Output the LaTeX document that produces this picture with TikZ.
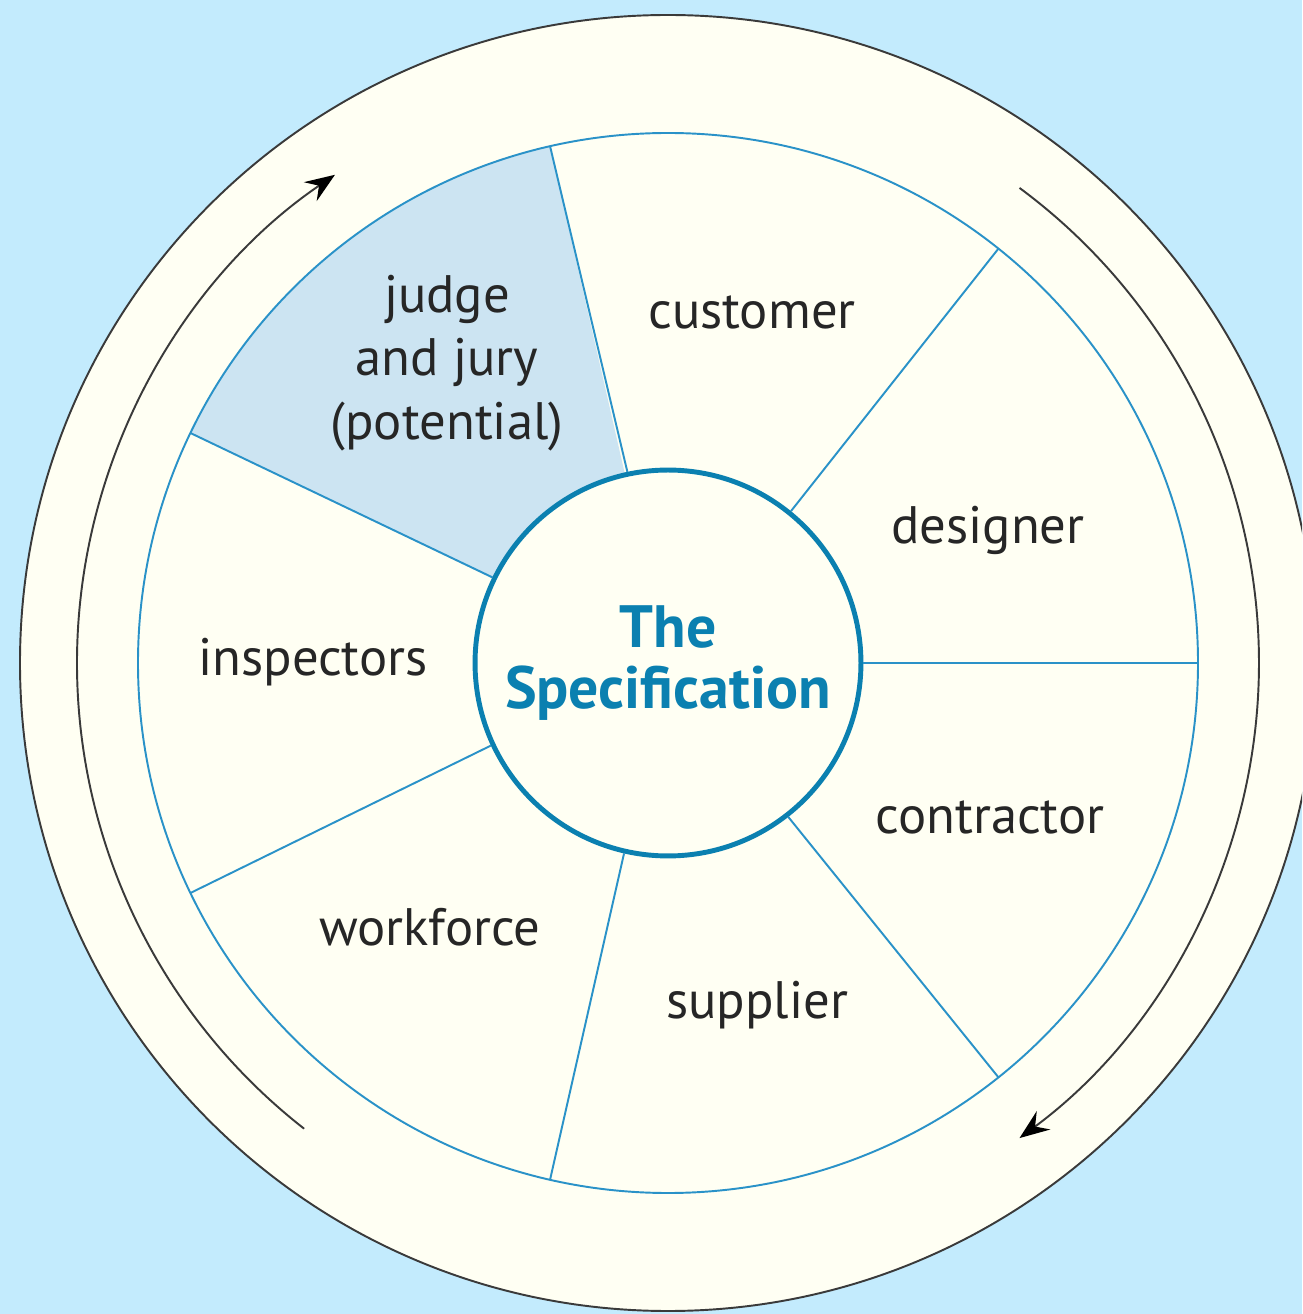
\documentclass[tikz,border=0pt]{standalone}
\usepackage{fontspec}
\setmainfont{PT Sans}
\usetikzlibrary{arrows.meta}
\definecolor{bgblue}{HTML}{C3EBFD}
\definecolor{cream}{HTML}{FFFFF3}
\definecolor{spokeblue}{HTML}{2A92C8}
\definecolor{specblue}{HTML}{0B80B0}
\definecolor{judgefill}{HTML}{CCE4F2}
\definecolor{ringline}{HTML}{3A3A3A}
\tikzset{
  ringstroke/.style={draw=ringline, line width=1.1pt},
  spoke/.style={draw=spokeblue, line width=1.1pt},
  flowarrow/.style={draw=ringline, line width=1.1pt, -{Stealth[length=17pt,width=13pt,inset=6pt,black]}},
  lbl/.style={font=\fontsize{30}{36}\selectfont, text=black!85, align=center, inner sep=0pt},
}
\begin{document}
\begin{tikzpicture}[x=0.02cm, y=0.02cm]
\useasboundingbox (-668,-651) rectangle (634,663);
\fill[bgblue] (-668,-651) rectangle (634,663);
\clip (-668,-651) rectangle (634,663);
% outer ring
\filldraw[fill=cream, ringstroke] (0,0) circle[radius=648];
% wheel
\fill[cream] (0,0) circle[radius=530];
% judge sector
\fill[judgefill] (102.857:193) -- (102.857:530) arc[start angle=102.857, end angle=154.286, radius=530] -- (154.286:193) arc[start angle=154.286, end angle=102.857, radius=193] -- cycle;
\draw[draw=spokeblue, line width=1.1pt] (0,0) circle[radius=530];
% centre node
\node[circle, draw=specblue, line width=2.8pt, fill=cream, minimum size=7.72cm, inner sep=0pt,
      font=\bfseries\fontsize{34}{35}\selectfont, text=specblue, align=center] (spec) at (0,0) {The\\Specification};
% spoke end coordinates
\foreach \k in {0,...,6} {
  \coordinate (w\k) at ({\k*360/7}:530);
  \draw[spoke] (spec.{\k*360/7}) -- (w\k);
}
% arrows
\coordinate (la) at (232:591);
\coordinate (ra) at (53.5:591);
\draw[flowarrow] (la) arc[start angle=232, end angle=124.3, radius=591];
\draw[flowarrow] (ra) arc[start angle=53.5, end angle=-53.5, radius=591];
% labels
\node[lbl] (judge) at (-221,300) {judge\\and jury\\(potential)};
\node[lbl] (customer) at (84,351) {customer};
\node[lbl] (designer) at (320,133) {designer};
\node[lbl] (inspectors) at (-355,1) {inspectors};
\node[lbl] (contractor) at (322,-154) {contractor};
\node[lbl] (workforce) at (-238,-264) {workforce};
\node[lbl] (supplier) at (89,-342) {supplier};
\end{tikzpicture}
\end{document}
